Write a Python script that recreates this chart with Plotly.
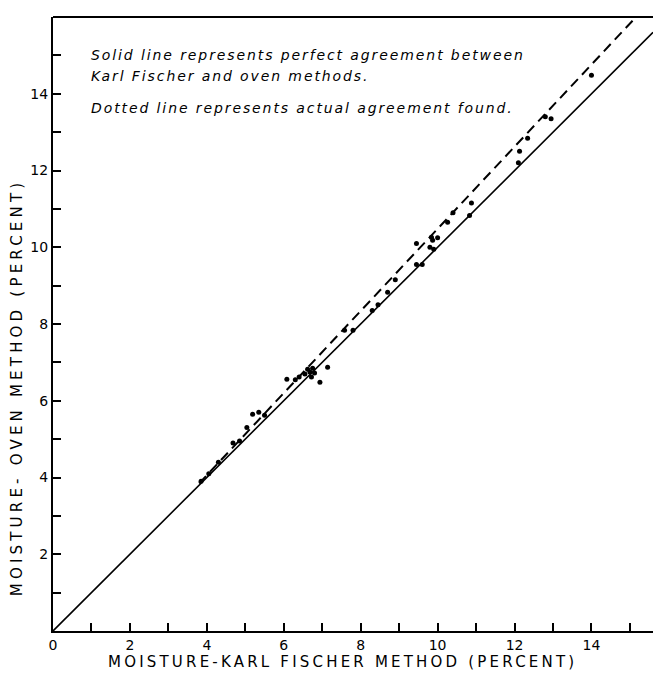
import plotly.graph_objects as go

# Data (percent moisture)
karl_fischer = [3.85, 4.05, 4.3, 4.68, 4.85, 5.04, 5.19, 5.35, 5.5, 6.08, 6.3, 6.4,
                6.55, 6.62, 6.68, 6.72, 6.75, 6.8, 6.94, 7.14, 7.58, 7.8, 8.3, 8.45,
                8.7, 8.9, 9.45, 9.45, 9.6, 9.8, 9.84, 9.87, 9.9, 10.0, 10.26, 10.4,
                10.83, 10.88, 12.1, 12.13, 12.34, 12.8, 12.95, 14.0]
oven = [3.9, 4.1, 4.4, 4.9, 4.95, 5.3, 5.65, 5.7, 5.62, 6.56, 6.55, 6.62,
        6.7, 6.82, 6.75, 6.62, 6.85, 6.72, 6.48, 6.87, 7.84, 7.84, 8.35, 8.5,
        8.83, 9.15, 9.55, 10.1, 9.55, 10.0, 10.26, 10.18, 9.95, 10.25, 10.65, 10.9,
        10.83, 11.15, 12.2, 12.5, 12.84, 13.4, 13.35, 14.48]

perfect_x = [0, 15.6]
fit_slope = 1.07
fit_intercept = -0.22
fit_x = [3.8, 15.16]

x_tickvals = list(range(0, 16))
x_ticktext = [str(v) if v % 2 == 0 and v <= 14 else "" for v in x_tickvals]
y_tickvals = list(range(1, 16))
y_ticktext = [str(v) if v % 2 == 0 and v <= 14 else "" for v in y_tickvals]

x_title = "MOISTURE-KARL FISCHER METHOD (PERCENT)"
y_title = "MOISTURE- OVEN METHOD (PERCENT)"
notes = [
    "Solid line represents perfect agreement between",
    "Karl Fischer and oven methods.",
    "Dotted line represents actual agreement found.",
]
note_y = [15.0, 14.45, 13.63]


def spaced(text, px):
    return '<span style="letter-spacing:%spx">%s</span>' % (px, text)


fig = go.Figure()
fig.add_trace(go.Scatter(x=perfect_x, y=perfect_x, mode="lines",
                         line=dict(color="black", width=1.6), showlegend=False))
fig.add_trace(go.Scatter(x=fit_x, y=[fit_slope * v + fit_intercept for v in fit_x],
                         mode="lines", line=dict(color="black", width=2, dash="10px,6px"),
                         showlegend=False))
fig.add_trace(go.Scatter(x=karl_fischer, y=oven, mode="markers",
                         marker=dict(color="black", size=5), showlegend=False))

for t, yy in zip(notes, note_y):
    fig.add_annotation(x=0.94, y=yy, text=spaced(t, 1.9), showarrow=False, xanchor="left",
                       yanchor="middle",
                       font=dict(family="DejaVu Sans", size=14, color="black", style="italic"))

fig.add_annotation(xref="paper", yref="paper", x=0.482, y=-0.0505, text=spaced(x_title, 3.2),
                   showarrow=False, xanchor="center", yanchor="middle",
                   font=dict(family="DejaVu Sans", size=15, color="black"))
fig.add_annotation(xref="paper", yref="paper", x=-0.06, y=0.397, text=spaced(y_title, 4.2),
                   showarrow=False, xanchor="center", yanchor="middle", textangle=-90,
                   font=dict(family="DejaVu Sans", size=15, color="black"))

fig.add_shape(type="line", xref="paper", yref="paper", x0=0, x1=1, y0=1, y1=1,
              line=dict(color="black", width=2))

tickfont = dict(family="DejaVu Sans", size=14, color="black")
fig.update_xaxes(range=[0, 15.6], tickvals=x_tickvals, ticktext=x_ticktext,
                 ticks="inside", ticklen=8, tickwidth=1.5, tickcolor="black",
                 showline=True, linecolor="black", linewidth=2, showgrid=False,
                 zeroline=False, tickfont=tickfont)
fig.update_yaxes(range=[0, 16], tickvals=y_tickvals, ticktext=y_ticktext,
                 ticks="inside", ticklen=8, tickwidth=1.5, tickcolor="black",
                 showline=True, linecolor="black", linewidth=2, showgrid=False,
                 zeroline=False, tickfont=tickfont)

fig.update_layout(width=653, height=679, margin=dict(l=53, r=0, t=17, b=48),
                  plot_bgcolor="white", paper_bgcolor="white")

fig.write_html("out.html")
